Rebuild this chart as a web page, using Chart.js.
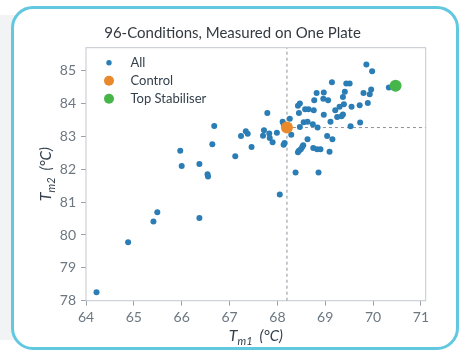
<!DOCTYPE html>
<html lang="en">
<head>
  <meta charset="UTF-8">
  <title>96-Conditions, Measured on One Plate</title>
  <script src="https://cdn.jsdelivr.net/npm/chart.js"></script>
  <style>
    html, body { margin: 0; padding: 0; background: #fff; width: 462px; height: 352px; overflow: hidden; }
    .side { position: absolute; left: 0; top: 15px; width: 40px; height: 325px; background: #f1f3f5; }
    .card { position: absolute; left: 11px; top: 6px; width: 442px; height: 338px;
            border: 3px solid #62c8e0; border-radius: 22px; background: #fff; }
    #plate { position: absolute; left: 0; top: 0; }
  </style>
</head>
<body>
  <div class="side"></div>
  <div class="card"></div>
  <canvas id="plate" width="462" height="352"></canvas>

  <script>
    // Tm1 / Tm2 of every well
    const allTm1 = [64.22, 64.88, 65.41, 65.49, 65.97, 66.00, 66.37, 66.37, 66.54, 66.55,
                    66.64, 66.68, 67.12, 67.24, 67.34, 67.38, 67.46, 67.72, 67.70, 67.79,
                    67.83, 67.84, 67.90, 67.99, 68.05, 68.11, 68.13, 68.26, 68.29, 68.15,
                    68.13, 68.38, 68.86, 68.43, 68.47, 68.45, 68.58, 68.65, 68.76, 68.47,
                    68.55, 68.63, 68.74, 68.84, 68.82, 68.97, 68.77, 68.96, 69.06, 68.97,
                    69.14, 69.44, 69.51, 69.86, 69.98, 70.33, 69.96, 69.80, 69.93, 69.41,
                    69.37, 69.89, 69.72, 69.55, 69.39, 69.30, 69.21, 69.37, 69.34, 69.25,
                    69.11, 69.73, 69.53, 68.63, 69.04, 69.15, 68.54, 68.52, 68.49, 68.45,
                    68.43, 68.75, 68.83, 68.90, 69.09];
    const allTm2 = [78.26, 79.78, 80.41, 80.69, 82.56, 82.10, 82.16, 80.52, 81.85, 81.78,
                    82.76, 83.32, 82.40, 83.01, 83.16, 83.08, 82.68, 83.19, 83.02, 83.71,
                    83.09, 82.95, 82.82, 83.11, 81.23, 83.45, 83.38, 83.54, 83.05, 82.80,
                    82.75, 81.90, 81.90, 83.93, 84.00, 83.71, 83.83, 83.83, 83.80, 83.29,
                    83.43, 83.45, 83.37, 83.27, 84.32, 84.34, 84.10, 84.15, 84.10, 83.66,
                    84.65, 84.61, 84.61, 85.19, 84.98, 84.49, 84.43, 84.32, 84.28, 84.36,
                    84.20, 84.02, 83.95, 83.90, 83.98, 83.90, 83.80, 83.67, 83.61, 83.59,
                    83.45, 83.42, 83.31, 82.91, 83.01, 82.91, 82.73, 82.68, 82.61, 82.56,
                    82.52, 82.65, 82.61, 82.61, 82.53];
    const controlTm = [68.20, 83.27];
    const topTm = [70.47, 84.54];
    const xTicks = [64, 65, 66, 67, 68, 69, 70, 71];
    const yTicks = [78, 79, 80, 81, 82, 83, 84, 85];
    const xRange = [64, 71.1];
    const yRange = [78, 85.7];

    const FONT = 'Lato, "Open Sans", sans-serif';
    const INK = '#34404c';

    // legend inside the plot, top left
    const insideLegend = {
      id: 'insideLegend',
      afterDatasetsDraw(chart) {
        const { ctx, chartArea } = chart;
        ctx.save();
        ctx.font = '13px ' + FONT;
        ctx.textBaseline = 'middle';
        let y = chartArea.top + 15;
        chart.data.datasets.forEach(ds => {
          if (!ds.inLegend) return;
          ctx.beginPath();
          ctx.arc(chartArea.left + 23, y, ds.legendRadius, 0, Math.PI * 2);
          ctx.fillStyle = ds.backgroundColor;
          ctx.fill();
          ctx.fillStyle = INK;
          ctx.fillText(ds.label, chartArea.left + 44.5, y);
          y += 18;
        });
        ctx.restore();
      }
    };

    // frame round the plot area
    const frame = {
      id: 'frame',
      beforeDatasetsDraw(chart) {
        const { ctx, chartArea: a } = chart;
        ctx.save();
        ctx.strokeStyle = '#c3c8ce';
        ctx.lineWidth = 1;
        ctx.strokeRect(a.left, a.top, a.right - a.left, a.bottom - a.top);
        ctx.restore();
      }
    };

    // axis titles with a subscript
    function drawSubTitle(ctx, sub, cx, base) {
      const parts = [
        { t: 'T', f: 'italic 16px ' + FONT, dy: 0 },
        { t: sub, f: 'italic 11px ' + FONT, dy: 4 },
        { t: '  (°C)', f: 'italic 15px ' + FONT, dy: 0 }
      ];
      let w = 0;
      parts.forEach(p => { ctx.font = p.f; p.w = ctx.measureText(p.t).width; w += p.w; });
      let x = cx - w / 2;
      ctx.fillStyle = INK;
      ctx.textBaseline = 'alphabetic';
      parts.forEach(p => { ctx.font = p.f; ctx.fillText(p.t, x, base + p.dy); x += p.w; });
    }
    const axisTitles = {
      id: 'axisTitles',
      afterDraw(chart) {
        const { ctx, chartArea: a } = chart;
        ctx.save();
        drawSubTitle(ctx, 'm1', (a.left + a.right) / 2, a.bottom + 40);
        ctx.translate(a.left - 35.3, (a.top + a.bottom) / 2);
        ctx.rotate(-Math.PI / 2);
        drawSubTitle(ctx, 'm2', 0, 0);
        ctx.restore();
      }
    };

    const toPoints = (xs, ys) => xs.map((x, i) => ({ x: x, y: ys[i] }));

    const tickStyle = { color: '#6c7782', font: { family: FONT, size: 14 } };
    const gridStyle = { drawOnChartArea: false, tickLength: 5, color: '#9aa3ad' };

    new Chart(document.getElementById('plate'), {
      type: 'scatter',
      data: {
        datasets: [
          {
            label: 'All', inLegend: true, legendRadius: 2.7,
            data: toPoints(allTm1, allTm2),
            backgroundColor: '#2a7db5', pointRadius: 3, pointBorderWidth: 0, order: 3
          },
          {
            label: 'Control', inLegend: true, legendRadius: 5,
            data: [{ x: controlTm[0], y: controlTm[1] }],
            backgroundColor: '#e8892c', pointRadius: 6, pointBorderWidth: 0, order: 1
          },
          {
            label: 'Top Stabiliser', inLegend: true, legendRadius: 5,
            data: [{ x: topTm[0], y: topTm[1] }],
            backgroundColor: '#46b64a', pointRadius: 6, pointBorderWidth: 0, order: 2
          },
          {
            data: [{ x: controlTm[0], y: yRange[0] }, { x: controlTm[0], y: yRange[1] }],
            showLine: true, borderColor: '#8c9198', borderWidth: 1, borderDash: [3, 3],
            pointRadius: 0, order: 9
          },
          {
            data: [{ x: controlTm[0], y: controlTm[1] }, { x: xRange[1], y: controlTm[1] }],
            showLine: true, borderColor: '#8c9198', borderWidth: 1, borderDash: [3, 3],
            pointRadius: 0, order: 9
          }
        ]
      },
      options: {
        responsive: false,
        animation: false,
        events: [],
        layout: { padding: { left: 39.3, right: 36.3, top: 0, bottom: 0 } },
        plugins: {
          legend: { display: false },
          tooltip: { enabled: false },
          title: {
            display: true,
            text: '96-Conditions, Measured on One Plate',
            color: '#333a40',
            font: { family: FONT, size: 15, weight: 'normal' },
            padding: { top: 24.3, bottom: 5.4 }
          }
        },
        scales: {
          x: {
            type: 'linear', min: xRange[0], max: xRange[1],
            afterBuildTicks: s => { s.ticks = xTicks.map(v => ({ value: v })); },
            afterFit: s => { s.height = 51.3; },
            grid: gridStyle,
            border: { display: false },
            ticks: Object.assign({ padding: 3 }, tickStyle)
          },
          y: {
            type: 'linear', min: yRange[0], max: yRange[1],
            afterBuildTicks: s => { s.ticks = yTicks.map(v => ({ value: v })); },
            afterFit: s => { s.width = 46.7; },
            grid: gridStyle,
            border: { display: false },
            ticks: Object.assign({ padding: 5 }, tickStyle)
          }
        }
      },
      plugins: [frame, insideLegend, axisTitles]
    });
  </script>
</body>
</html>
